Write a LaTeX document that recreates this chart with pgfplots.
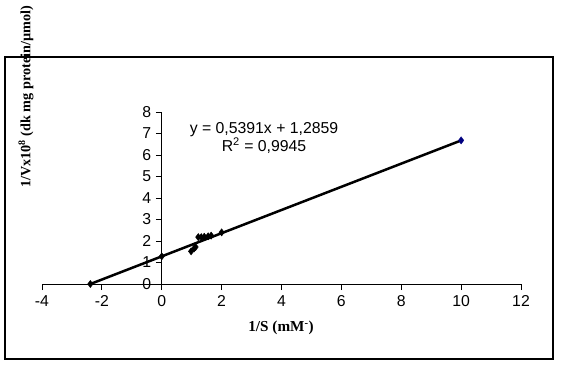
\documentclass[border=0pt]{standalone}
\usepackage{pgfplots}
\pgfplotsset{compat=1.18}
\usepackage{fontspec}
\setmainfont{Liberation Sans}
\newfontfamily\timesfont{Liberation Serif}
\begin{document}
\begin{tikzpicture}[x=1pt,y=1pt]
\useasboundingbox (0,0) rectangle (561,365);
\draw[line width=1.3pt] (5,6) rectangle (553,308);
\begin{axis}[
  at={(42pt,81pt)}, anchor=south west,
  width=479pt, height=172pt, scale only axis,
  xmin=-4, xmax=12, ymin=0, ymax=8,
  axis lines=middle,
  hide obscured x ticks=false, hide obscured y ticks=false,
  axis line style={-, line width=1pt},
  xtick={-4,-2,0,2,4,6,8,10,12},
  xticklabels={-4,-2,0,2,4,6,8,10,12},
  ytick={0,1,2,3,4,5,6,7,8},
  yticklabels={0,1,2,3,4,5,6,7,8},
  tick align=outside,
  major tick length=6pt,
  tick style={black, line width=1pt},
  ticklabel style={font=\fontsize{15.8}{17}\selectfont},
  xticklabel style={yshift=-2pt},
  yticklabel style={xshift=-1pt},
  clip=false,
]
\addplot[black, line width=2.5pt] coordinates {(-2.385,0) (10,6.677)};
\addplot[only marks, mark=diamond*, mark size=3.6pt, black] coordinates {
(-2.385,0) (0,1.286) (0.98,1.52) (1.08,1.65) (1.13,1.72) (1.22,2.18) (1.32,2.18) (1.42,2.20) (1.55,2.22) (1.65,2.25) (2.0,2.40)
};
\addplot[only marks, mark=diamond*, mark size=3.6pt, color={rgb,255:red,0;green,0;blue,128}] coordinates {(10,6.68)};
\end{axis}
\node[align=center, font=\fontsize{15.8}{16}\selectfont] at (264,227) {y = 0,5391x + 1,2859\\R\textsuperscript{2} = 0,9945};
\node[font=\timesfont\bfseries\fontsize{15.2}{17}\selectfont] at (281,37) {1/S (mM\textsuperscript{-})};
\node[rotate=90, font=\timesfont\bfseries\fontsize{14.2}{17}\selectfont, anchor=south] at (37,268) {1/Vx10\textsuperscript{8} (dk mg protein/µmol)};
\end{tikzpicture}
\end{document}
